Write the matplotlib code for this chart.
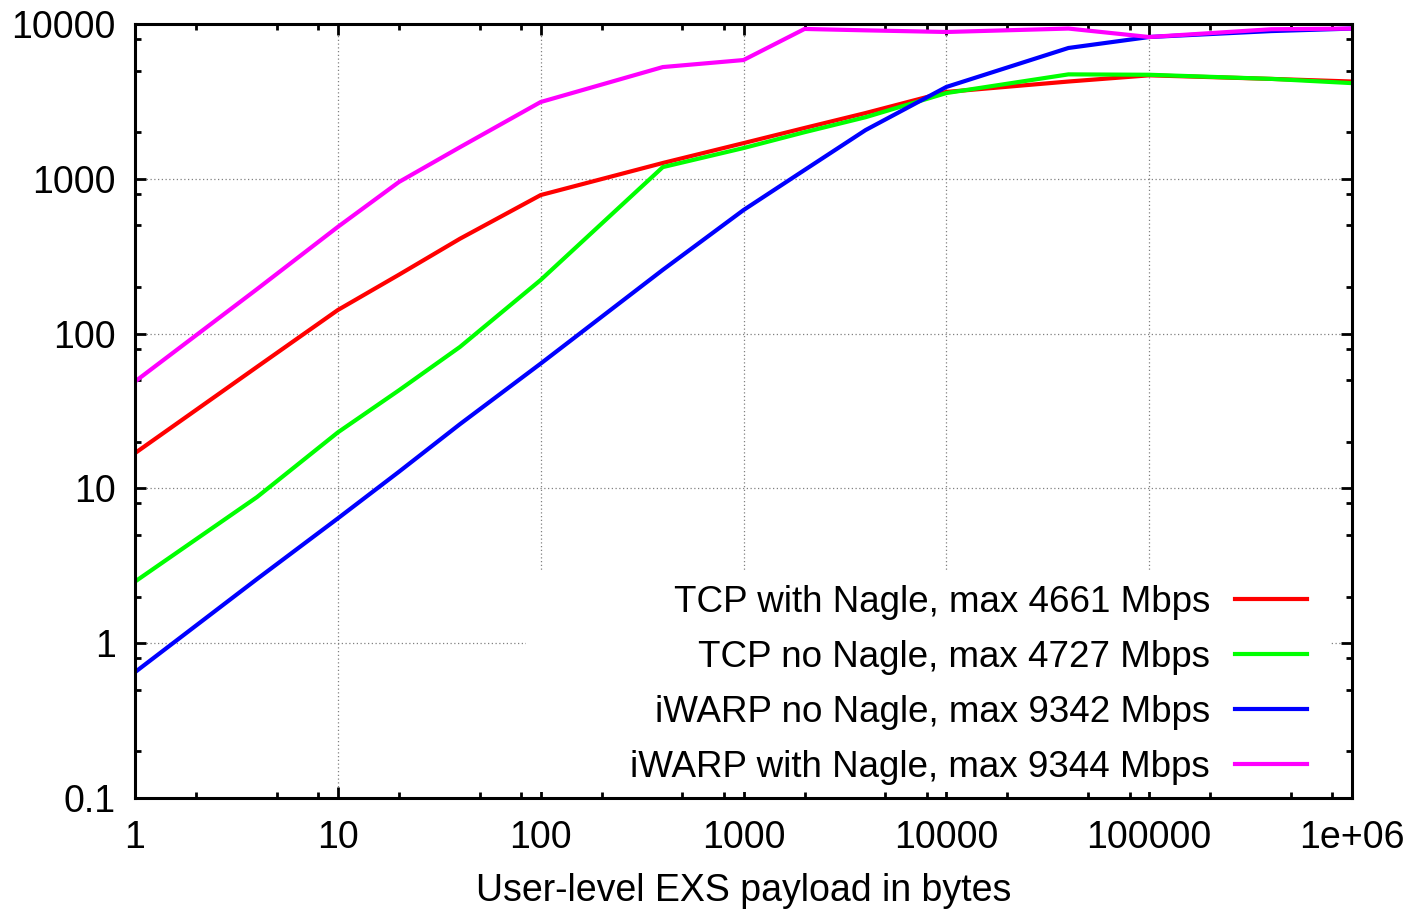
import matplotlib
matplotlib.use("Agg")
import matplotlib.pyplot as plt
from matplotlib.patches import Rectangle
from matplotlib.ticker import LogLocator, FixedFormatter, FixedLocator, NullFormatter

plt.rcParams['font.family'] = ['Liberation Sans', 'DejaVu Sans']

# payload sizes (bytes)
sizes = [1, 4, 10, 20, 40, 100, 400, 1000, 2000, 4000, 10000, 40000, 100000, 400000, 1000000]

# throughput in Mbps
tcp_nagle = [16.9, 61, 142, 240, 410, 785, 1265, 1700, 2130, 2660, 3640, 4250, 4661, 4420, 4250]
tcp_no_nagle = [2.5, 8.8, 23, 43, 82, 222, 1190, 1580, 2000, 2500, 3580, 4727, 4700, 4420, 4150]
iwarp_no_nagle = [0.65, 2.6, 6.4, 12.8, 26, 64, 258, 628, 1140, 2065, 3920, 7000, 8240, 9000, 9342]
iwarp_nagle = [49, 194, 489, 953, 1600, 3133, 5270, 5850, 9290, 9100, 8880, 9344, 8240, 9250, 9340]

labels = ["TCP with Nagle, max 4661 Mbps",
          "TCP no Nagle, max 4727 Mbps",
          "iWARP no Nagle, max 9342 Mbps",
          "iWARP with Nagle, max 9344 Mbps"]
colors = ["#ff0000", "#00ff00", "#0000ff", "#ff00ff"]

xticks = [1, 10, 100, 1000, 10000, 100000, 1000000]
xticklabels = ["1", "10", "100", "1000", "10000", "100000", "1e+06"]
yticks = [0.1, 1, 10, 100, 1000, 10000]
yticklabels = ["0.1", "1", "10", "100", "1000", "10000"]

fig = plt.figure(figsize=(14.18, 9.10), dpi=100)
ax = fig.add_axes([135 / 1418, 1 - 798 / 910, (1352 - 135) / 1418, (798 - 24) / 910])

for ys, lab, c in zip([tcp_nagle, tcp_no_nagle, iwarp_no_nagle, iwarp_nagle], labels, colors):
    ax.plot(sizes, ys, color=c, linewidth=3, label=lab, solid_joinstyle='miter')

ax.set_xscale('log')
ax.set_yscale('log')
ax.set_xlim(1, 1e6)
ax.set_ylim(0.1, 10000)

ax.xaxis.set_major_locator(FixedLocator(xticks))
ax.xaxis.set_major_formatter(FixedFormatter(xticklabels))
ax.yaxis.set_major_locator(FixedLocator(yticks))
ax.yaxis.set_major_formatter(FixedFormatter(yticklabels))
ax.xaxis.set_minor_locator(LogLocator(base=10, subs=[2, 5, 8]))
ax.yaxis.set_minor_locator(LogLocator(base=10, subs=[2, 5, 8]))
ax.xaxis.set_minor_formatter(NullFormatter())
ax.yaxis.set_minor_formatter(NullFormatter())

ax.tick_params(which='both', direction='in', top=True, right=True, labelsize=27)
ax.tick_params(which='major', length=8, width=2)
ax.tick_params(which='minor', length=4, width=2)
ax.tick_params(axis='x', which='major', pad=16)
ax.tick_params(axis='y', which='major', pad=14)

for s in ax.spines.values():
    s.set_linewidth(2.2)

ax.set_axisbelow(True)
ax.grid(True, which='major', color='#808080', linestyle=(0, (1, 2)), linewidth=0.9)

ax.set_xlabel("User-level EXS payload in bytes", fontsize=27, labelpad=12)

# white key area hiding the grid, like gnuplot's key box
ax.add_patch(Rectangle((0.321, 0.008), 0.662, 0.287, transform=ax.transAxes,
                       facecolor='white', edgecolor='none', zorder=1.5))

leg = ax.legend(loc='lower right', bbox_to_anchor=(0.963, 0.017), markerfirst=False,
                fontsize=26.5, frameon=False,
                handlelength=1.95, handletextpad=0.68,
                labelspacing=0.54, borderpad=0.0, borderaxespad=0.0)
leg.set_zorder(5)

fig.savefig("out.png", dpi=100)
